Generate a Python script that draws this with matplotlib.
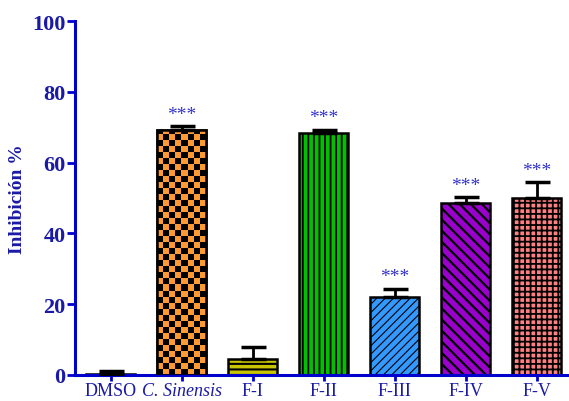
import numpy as np
import matplotlib
matplotlib.use("Agg")
import matplotlib.pyplot as plt

# values
groups = ["DMSO", "C. Sinensis", "F-I", "F-II", "F-III", "F-IV", "F-V"]
means = [0.3, 69.3, 4.5, 68.3, 21.9, 48.5, 50.0]
errs = [0.7, 1.0, 3.5, 1.0, 2.4, 1.7, 4.4]
signif = ["", "***", "", "***", "***", "***", "***"]

colors = ["black", "#FF9933", "#C8C400", "#00C000", "#3399FF", "#9900CC", "#FF8080"]
hatches = [None, None, "---", "|||", "////", "\\\\\\", "+++"]
hatch_lw = [1.0, 1.0, 1.5, 1.3, 0.8, 1.6, 1.3]

blue = "#0000CC"
navy = "#1a1aa6"

plt.rcParams["font.family"] = ["Liberation Serif", "DejaVu Serif"]

fig = plt.figure(figsize=(5.69, 4.02), dpi=100)
ax = fig.add_axes([0.132, 0.065, 0.866, 0.88])

x = np.arange(len(groups))
bars = []
for i in x:
    plt.rcParams["hatch.linewidth"] = hatch_lw[i]
    b = ax.bar(i, means[i], width=0.68, color=colors[i], edgecolor="black",
               linewidth=1.8, hatch=hatches[i], zorder=2)[0]
    bars.append(b)
ax.errorbar(x, means, yerr=[np.zeros(len(errs)), errs], fmt="none",
            ecolor="black", elinewidth=2, capsize=9, capthick=2.5, zorder=3)

# checkerboard fill for C. Sinensis
b = bars[1]
nx, ny = 8, 42
checker = (np.add.outer(np.arange(ny), np.arange(nx)) % 2).astype(float)
cmap = matplotlib.colors.ListedColormap(["#FF9933", "black"])
img = ax.imshow(checker, cmap=cmap, interpolation="nearest", aspect="auto",
                extent=[b.get_x(), b.get_x() + b.get_width(), 0, ny * 1.7],
                zorder=2.5)
img.set_clip_path(b)
ax.bar(1, means[1], width=0.68, facecolor="none", edgecolor="black",
       linewidth=1.8, zorder=2.6)

for i in x:
    if signif[i]:
        ax.text(i, means[i] + errs[i] + 1.0, signif[i], ha="center", va="bottom",
                color="#3333CC", fontsize=14)

ax.set_xlim(-0.5, 6.44)
ax.set_ylim(0, 100)
ax.set_yticks([0, 20, 40, 60, 80, 100])
ax.set_xticks(x)
ax.set_xticklabels(groups, color=navy, fontsize=13)
ax.get_xticklabels()[1].set_style("italic")
for lab in ax.get_yticklabels():
    lab.set_fontweight("bold")
    lab.set_fontsize(16)
ax.set_ylabel("Inhibición %", color=navy, fontsize=14, fontweight="bold", labelpad=4)

for s in ["top", "right"]:
    ax.spines[s].set_visible(False)
for s in ["left", "bottom"]:
    ax.spines[s].set_color(blue)
    ax.spines[s].set_linewidth(2.2)
ax.tick_params(axis="y", colors=blue, width=2, length=6, pad=1)
ax.tick_params(axis="x", colors=blue, width=2, length=4, pad=1)
for lab in ax.get_xticklabels() + ax.get_yticklabels():
    lab.set_color(navy)

fig.savefig("out.png", dpi=100)
